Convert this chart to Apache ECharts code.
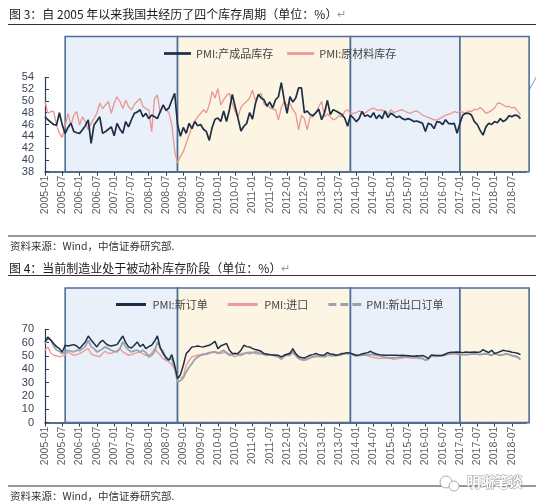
<!DOCTYPE html>
<html>
<head>
<meta charset="utf-8">
<script src="https://cdn.jsdelivr.net/npm/echarts@6/dist/echarts.min.js"></script>
<style>
  html, body { margin: 0; padding: 0; background: #fff; }
  #main { width: 536px; height: 504px; }
</style>
</head>
<body>
<div id="main"></div>
<script>
// 月份类目：2005-01 起
const startYear = 2005
const lineMonths = 168 // 2005-01 ~ 2018-12
const boxMonths = 169 // 多一个月，阴影区延伸到 2019-01

// 图3 PMI 库存 (2005-01 ~ 2018-10)
const finishedInventory = [
  47.3, 46.8, 46.4, 46.0, 45.9, 48.0, 45.9, 44.5, 45.5, 46.2, 44.8, 44.6,
  44.5, 45.1, 45.8, 46.8, 42.8, 45.9, 46.6, 47.3, 44.5, 44.8, 45.2, 45.6,
  44.1, 46.2, 45.2, 44.5, 46.5, 45.6, 46.8, 47.9, 48.1, 48.5, 47.3, 47.9,
  47.0, 47.6, 47.3, 47.0, 48.2, 49.3, 48.4, 48.8, 50.1, 51.3, 46.0, 44.0,
  45.5, 44.5, 46.2, 45.3, 46.5, 45.8, 46.0, 45.2, 44.8, 43.3, 45.5, 46.9,
  47.1, 46.5, 48.3, 46.5, 48.5, 51.1, 49.0, 47.0, 44.9, 45.7, 46.2, 48.0,
  46.9, 49.5, 51.1, 50.5, 50.2, 49.1, 49.8, 48.8, 50.2, 50.7, 53.1, 50.2,
  47.9, 50.7, 49.8, 50.5, 52.2, 52.2, 48.0, 48.3, 47.7, 47.5, 48.0, 48.6,
  46.8, 48.0, 50.1, 47.7, 48.5, 48.3, 48.0, 47.7, 47.1, 45.7, 47.6, 47.1,
  46.5, 47.0, 48.2, 47.4, 47.6, 47.2, 48.0, 47.0, 47.6, 47.0, 48.3, 47.2,
  47.9, 47.6, 47.2, 47.4, 47.0, 46.8, 47.0, 46.8, 46.5, 46.6, 46.4, 46.2,
  44.8, 46.2, 46.0, 45.3, 46.5, 46.4, 46.0, 46.8, 46.2, 46.1, 46.2, 44.5,
  46.2, 47.6, 47.9, 47.9, 47.6, 46.5, 46.0, 45.0, 44.2, 45.6, 46.2, 46.0,
  46.5, 46.3, 47.0, 46.5, 46.8, 47.5, 47.3, 47.6, 47.5, 47.0
]
const rawInventory = [
  49.9, 47.9, 48.2, 48.2, 45.9, 44.5, 43.8, 45.8, 47.9, 45.9, 47.6, 48.2,
  45.9, 47.3, 46.5, 45.1, 46.2, 47.0, 47.9, 49.6, 48.7, 49.3, 49.9, 47.9,
  49.6, 50.7, 49.9, 48.7, 50.1, 49.0, 48.5, 49.4, 49.9, 50.4, 49.0, 48.7,
  48.5, 44.8, 50.4, 51.0, 47.9, 49.3, 48.5, 48.0, 46.0, 41.5, 39.5, 40.6,
  41.4, 42.8, 44.2, 45.6, 46.6, 47.3, 47.9, 48.5, 48.0, 49.3, 51.6, 50.5,
  52.1, 49.3, 50.2, 50.9, 51.3, 49.5, 48.2, 47.3, 48.9, 49.5, 49.9, 50.5,
  51.8, 50.1, 50.8, 51.3, 49.5, 49.2, 48.9, 48.6, 48.5, 46.8, 48.9, 49.9,
  49.2, 49.6, 48.5, 47.9, 45.1, 47.6, 47.0, 45.1, 47.3, 47.3, 48.0, 49.0,
  49.9, 47.3, 47.8, 47.3, 46.8, 47.0, 47.5, 47.3, 48.2, 48.5, 47.8, 47.9,
  48.0, 48.3, 48.1, 47.9, 48.3, 48.6, 48.8, 48.5, 48.4, 48.5, 48.0, 47.8,
  48.5, 48.0, 48.2, 48.4, 48.5, 48.2, 48.0, 47.9, 48.2, 48.3, 48.0, 47.6,
  47.4, 47.2, 47.0, 46.8, 46.8, 47.0, 47.3, 47.6, 47.7, 47.9, 48.2, 48.0,
  48.2, 48.1, 47.9, 48.3, 48.2, 48.6, 48.5, 48.9, 48.5, 47.9, 48.1, 48.4,
  48.8, 49.6, 49.6, 49.3, 49.0, 49.1, 48.8, 48.9, 48.3, 47.6
]

// 图4 PMI 订单 (2005-01 ~ 2018-10)
const newOrders = [
  60.5, 64.3, 62.0, 59.3, 57.0, 55.5, 53.0, 58.0, 57.5, 58.0, 58.5, 57.5,
  55.5, 58.0, 60.5, 65.0, 62.0, 59.3, 56.8, 60.0, 61.8, 59.5, 58.0, 57.5,
  58.0, 58.5, 61.8, 65.0, 60.0, 56.8, 56.0, 58.0, 60.5, 57.0, 58.8, 55.5,
  57.0, 58.0, 61.0, 65.0, 56.0, 51.8, 49.0, 46.8, 51.0, 43.0, 33.0, 36.0,
  43.0, 51.8, 54.0, 56.8, 57.0, 57.5, 57.0, 56.8, 57.5, 58.0, 59.3, 61.0,
  55.5, 57.5, 58.5, 59.3, 54.3, 51.8, 51.8, 51.8, 54.3, 58.0, 57.0, 56.8,
  55.5, 54.8, 54.3, 53.5, 51.8, 51.5, 51.0, 50.8, 50.5, 50.5, 49.3, 50.5,
  51.3, 51.8, 55.5, 51.8, 49.5, 48.8, 48.5, 49.5, 50.5, 51.0, 51.8, 51.0,
  50.5, 50.8, 52.5, 51.5, 51.3, 50.5, 51.0, 51.8, 52.0, 52.5, 52.0, 51.3,
  50.5, 50.8, 51.5, 52.0, 52.5, 53.5, 52.2, 51.5, 51.0, 50.8, 50.6, 50.5,
  50.5, 50.6, 50.5, 50.3, 50.5, 50.4, 50.2, 50.0, 49.8, 50.2, 50.0, 50.3,
  49.5, 48.0, 50.5, 50.5, 50.3, 50.3, 50.5, 51.5, 52.5, 52.8, 52.8, 53.0,
  52.8, 52.5, 53.0, 52.8, 52.8, 53.0, 52.8, 53.0, 54.8, 53.5, 52.5, 54.3,
  51.8, 52.5, 53.3, 54.3, 53.8, 53.5, 52.8, 52.5, 52.0, 51.0
]
const imports = [
  54.3, 56.8, 52.0, 50.5, 50.0, 49.3, 50.0, 51.0, 53.0, 51.5, 50.5, 51.0,
  51.8, 53.0, 54.5, 55.5, 51.8, 50.5, 50.0, 49.3, 52.0, 53.5, 51.8, 52.0,
  53.0, 54.0, 55.5, 53.0, 51.8, 50.5, 51.0, 51.8, 52.5, 53.0, 51.5, 50.5,
  50.5, 52.0, 55.5, 53.0, 50.5, 48.0, 46.8, 45.5, 43.5, 40.0, 35.5, 33.5,
  34.5, 43.0, 46.5, 49.3, 50.0, 50.5, 51.0, 51.8, 51.0, 51.8, 52.5, 53.5,
  52.5, 51.8, 52.5, 53.0, 51.5, 50.5, 49.3, 50.5, 51.8, 52.0, 52.5, 53.0,
  52.5, 51.8, 51.5, 51.8, 51.0, 50.5, 50.5, 50.5, 49.5, 49.0, 48.0, 49.3,
  51.0, 53.0, 51.5, 50.5, 49.0, 46.8, 47.5, 48.0, 49.0, 49.3, 49.5, 49.3,
  49.5, 50.5, 50.5, 50.5, 50.5, 50.8, 51.0, 51.2, 51.8, 51.8, 51.5, 50.5,
  49.8, 50.3, 50.5, 50.5, 50.2, 49.3, 49.0, 48.5, 48.0, 48.3, 48.5, 48.5,
  48.0, 47.5, 47.8, 48.0, 48.5, 48.8, 48.8, 48.5, 48.3, 48.5, 48.0, 47.8,
  46.8, 47.8, 49.5, 49.8, 49.5, 49.8, 50.0, 50.5, 51.0, 51.3, 51.5, 51.0,
  51.0, 51.0, 51.2, 51.0, 51.3, 51.5, 51.2, 51.0, 51.3, 51.5, 51.0, 50.5,
  51.5, 51.0, 50.5, 50.8, 51.2, 51.0, 50.0, 49.5, 48.5, 47.3
]
const newExportOrders = [
  59.3, 63.0, 62.0, 57.3, 54.5, 53.5, 51.8, 53.0, 54.3, 53.5, 53.0, 54.3,
  54.0, 55.5, 57.0, 61.8, 57.0, 55.5, 53.0, 54.0, 55.5, 56.8, 55.5, 54.3,
  53.5, 53.0, 55.5, 60.5, 56.8, 54.5, 53.0, 54.0, 54.3, 53.0, 54.3, 52.5,
  49.3, 50.5, 53.0, 60.5, 56.0, 53.5, 46.8, 47.5, 48.0, 40.5, 30.5, 31.5,
  33.5, 38.0, 41.5, 44.3, 47.5, 49.3, 50.5, 51.0, 51.8, 52.5, 52.8, 53.0,
  51.8, 53.0, 54.3, 52.0, 50.5, 51.2, 51.8, 51.0, 50.5, 51.5, 52.5, 51.8,
  52.5, 53.0, 52.5, 51.8, 51.2, 50.5, 51.0, 50.8, 50.5, 49.5, 47.5, 50.5,
  50.5, 50.5, 53.5, 50.5, 48.0, 47.5, 46.8, 47.5, 48.5, 49.3, 49.8, 50.0,
  49.5, 49.3, 50.5, 50.2, 50.0, 50.3, 50.5, 51.0, 51.8, 51.8, 51.5, 51.0,
  50.3, 50.5, 50.5, 50.8, 51.0, 51.0, 51.0, 50.5, 50.0, 49.5, 49.0, 48.5,
  48.5, 48.5, 48.8, 49.0, 49.3, 49.3, 49.2, 49.3, 49.3, 49.0, 48.5, 48.3,
  46.8, 47.5, 50.5, 50.2, 50.0, 50.2, 50.5, 51.0, 51.8, 52.0, 52.5, 51.8,
  51.0, 51.0, 51.0, 51.2, 51.5, 51.8, 51.3, 51.0, 51.5, 51.8, 51.2, 50.5,
  51.8, 51.2, 50.5, 51.0, 51.8, 51.3, 50.5, 50.0, 49.3, 47.5
]

// 库存周期阶段（起止月份）
const phases = [
  ['2005-08', '2008-11', 'blue'],
  ['2008-11', '2013-11', 'yellow'],
  ['2013-11', '2017-01', 'blue'],
  ['2017-01', '2019-01', 'yellow']
]

function monthLabels (n) {
  let out = []
  for (let i = 0; i < n; i++) {
    let y = startYear + Math.floor(i / 12)
    let m = i % 12 + 1
    out.push(y + '-' + (m < 10 ? '0' : '') + m)
  }
  return out
}
const months = monthLabels(lineMonths)
const boxCats = monthLabels(boxMonths)

const NAVY = '#1d2e45'
const AXIS = '#2a3d57'
const FONT = "'Liberation Sans', 'Noto Sans CJK SC', sans-serif"
const CJK = "'Noto Sans CJK SC', 'Liberation Sans', sans-serif"
const monthW = 2.8817
// 图例图标：实线 / 虚线
const ICON_SOLID = 'path://M0,0h30v3h-30z'
const ICON_DASH = 'path://M0,0h8v3h-8z M12,0h8v3h-8z M24,0h9v3h-9z'

let myChart = echarts.init(document.getElementById('main'), null, { renderer: 'canvas' })

function xAxisLine (gridIndex) {
  return {
    gridIndex: gridIndex,
    type: 'category',
    boundaryGap: false,
    data: months,
    axisLine: { lineStyle: { color: AXIS, width: 1.5 } },
    axisTick: { length: 4, interval: (i) => i % 6 === 0, lineStyle: { color: AXIS } },
    axisLabel: {
      interval: (i) => i % 6 === 0,
      rotate: 90,
      margin: 4,
      fontSize: 10.5,
      color: '#5f5f5f',
      fontFamily: FONT
    },
    splitLine: { show: false }
  }
}
function xAxisBox (gridIndex) {
  return { gridIndex: gridIndex, type: 'category', boundaryGap: false, data: boxCats, show: false }
}
function yAxisLine (gridIndex, min, max, interval) {
  return {
    gridIndex: gridIndex,
    type: 'value',
    min: min,
    max: max,
    interval: interval,
    axisLine: { show: true, lineStyle: { color: AXIS, width: 1.2 } },
    axisTick: { show: true, inside: true, length: 4, lineStyle: { color: AXIS } },
    axisLabel: {
      fontSize: 11, lineHeight: 10, padding: 0, color: '#3a4556', margin: 11, fontFamily: FONT,
      showMinLabel: true, showMaxLabel: true, hideOverlap: false
    },
    splitLine: { show: false }
  }
}
function boxSeries (xi) {
  return {
    type: 'line',
    xAxisIndex: xi,
    yAxisIndex: xi,
    data: [],
    silent: true,
    z: 1,
    markArea: {
      silent: true,
      itemStyle: { borderColor: '#4d6f96', borderWidth: 1.6, opacity: 1 },
      data: phases.map(p => [
        { xAxis: p[0], itemStyle: { color: p[2] === 'blue' ? '#e9f0f9' : '#fdf5e3' } },
        { xAxis: p[1] }
      ])
    }
  }
}
function lineSeries (name, data, color, width, xi) {
  return {
    name: name,
    type: 'line',
    xAxisIndex: xi,
    yAxisIndex: xi,
    data: data,
    symbol: 'none',
    z: 3,
    lineStyle: { color: color, width: width },
    itemStyle: { color: color }
  }
}

let option = {
  animation: false,
  textStyle: { fontFamily: FONT },
  title: [
    {
      text: '图 3：自 2005 年以来我国共经历了四个库存周期（单位：%）{r|↵}',
      left: 9, top: 8, padding: 0,
      textStyle: { fontSize: 12, fontWeight: 'normal', color: '#1a1a1a', fontFamily: CJK, rich: { r: { color: '#999', fontSize: 11 } } }
    },
    {
      text: '资料来源：Wind，中信证券研究部.',
      left: 10, top: 241, padding: 0,
      textStyle: { fontSize: 10.5, fontWeight: 'normal', color: '#333', fontFamily: CJK }
    },
    {
      text: '图 4：当前制造业处于被动补库存阶段（单位：%）{r|↵}',
      left: 9, top: 262, padding: 0,
      textStyle: { fontSize: 12, fontWeight: 'normal', color: '#1a1a1a', fontFamily: CJK, rich: { r: { color: '#999', fontSize: 11 } } }
    },
    {
      text: '资料来源：Wind，中信证券研究部.',
      left: 10, top: 491, padding: 0,
      textStyle: { fontSize: 10.5, fontWeight: 'normal', color: '#333', fontFamily: CJK }
    }
  ],
  legend: [
    {
      data: [
        { name: 'PMI:产成品库存', icon: ICON_SOLID },
        { name: 'PMI:原材料库存', icon: ICON_SOLID }
      ],
      left: 164, top: 48, padding: 0,
      itemWidth: 27, itemHeight: 3, itemGap: 14,
      textStyle: { fontSize: 11, color: '#444', fontFamily: CJK }
    },
    {
      data: [
        { name: 'PMI:新订单', icon: ICON_SOLID },
        { name: 'PMI:进口', icon: ICON_SOLID },
        { name: 'PMI:新出口订单', icon: ICON_DASH }
      ],
      left: 116, top: 299, padding: 0,
      itemWidth: 33, itemHeight: 3, itemGap: 20,
      textStyle: { fontSize: 11, color: '#444', fontFamily: CJK }
    }
  ],
  grid: [
    { left: 45, top: 77.3, width: 167 * monthW, height: 94.4 },
    { left: 45, top: 36.5, width: 168 * monthW, height: 135.2 },
    { left: 45, top: 329.3, width: 167 * monthW, height: 93.3 },
    { left: 45, top: 288, width: 168 * monthW, height: 134.6 }
  ],
  xAxis: [xAxisLine(0), xAxisBox(1), xAxisLine(2), xAxisBox(3)],
  yAxis: [
    yAxisLine(0, 38, 54, 2),
    { gridIndex: 1, type: 'value', min: 0, max: 1, show: false },
    yAxisLine(2, 0, 70, 10),
    { gridIndex: 3, type: 'value', min: 0, max: 1, show: false }
  ],
  series: [
    boxSeries(1),
    lineSeries('PMI:原材料库存', rawInventory, '#e99590', 1.3, 0),
    lineSeries('PMI:产成品库存', finishedInventory, NAVY, 1.7, 0),
    boxSeries(3),
    lineSeries('PMI:进口', imports, '#ec9d98', 1.4, 2),
    lineSeries('PMI:新出口订单', newExportOrders, '#98a3ae', 1.8, 2),
    lineSeries('PMI:新订单', newOrders, NAVY, 1.5, 2)
  ],
  graphic: [
    { type: 'line', shape: { x1: 8, y1: 24.5, x2: 536, y2: 24.5 }, style: { stroke: '#333', lineWidth: 1 } },
    { type: 'line', shape: { x1: 8, y1: 236, x2: 536, y2: 236 }, style: { stroke: '#333', lineWidth: 1 } },
    { type: 'line', shape: { x1: 8, y1: 275.5, x2: 536, y2: 275.5 }, style: { stroke: '#333', lineWidth: 1 } },
    { type: 'line', shape: { x1: 8, y1: 486, x2: 536, y2: 486 }, style: { stroke: '#333', lineWidth: 1 } },
    // 右上角箭头
    { type: 'line', shape: { x1: 537, y1: 76, x2: 521, y2: 104 }, style: { stroke: '#8fb4d8', lineWidth: 1.3 } },
    { type: 'polygon', shape: { points: [[517.5, 110], [524.5, 105], [517, 101]] }, style: { fill: '#6f9cc8' } },
    // 水印
    { type: 'circle', shape: { cx: 446, cy: 482, r: 6 }, style: { fill: '#fff', stroke: '#aaa', lineWidth: 1 } },
    { type: 'circle', shape: { cx: 454, cy: 486, r: 5 }, style: { fill: '#fff', stroke: '#aaa', lineWidth: 1 } },
    {
      type: 'text', left: 466, top: 474,
      style: { text: '明晰笔谈', font: "bold 14px 'Noto Sans CJK SC'", fill: '#fff', stroke: '#9a9a9a', lineWidth: 1 }
    }
  ]
}
myChart.setOption(option, true)
</script>
</body>
</html>
